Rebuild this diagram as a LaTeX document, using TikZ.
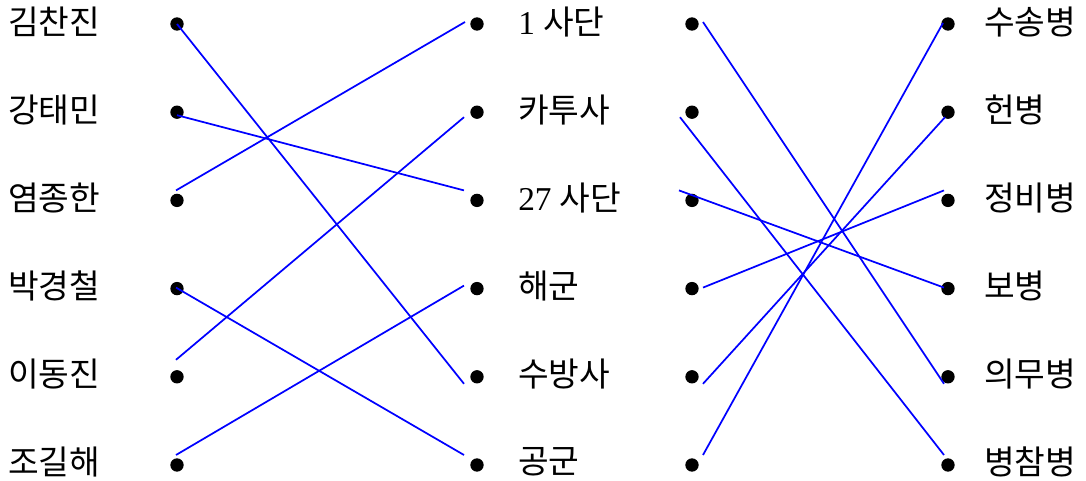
\documentclass[tikz,border=0pt]{standalone}
\usepackage{fontspec}
\setmainfont{Liberation Serif}
\newfontfamily\krfont{Noto Sans CJK KR}
\usetikzlibrary{calc}
\tikzset{
  dotnode/.style={circle,fill=black,inner sep=0pt,minimum size=10pt},
  lab/.style={anchor=west,inner sep=0pt,font=\fontsize{25pt}{28pt}\selectfont},
  link/.style={blue,line width=1.3pt}
}
\begin{document}
\begin{tikzpicture}[x=0.75pt,y=-0.75pt]
\useasboundingbox (0,0) rectangle (1086,481);
% dots
\foreach \i/\yy in {1/24,2/112.2,3/200.4,4/288.6,5/376.8,6/465}{
  \node[dotnode] (L\i) at (177,\yy) {};
  \node[dotnode] (M\i) at (477,\yy) {};
  \node[dotnode] (N\i) at (692,\yy) {};
  \node[dotnode] (R\i) at (948,\yy) {};
}
% labels left
\node[lab] (a1) at (8,22) {\krfont 김찬진};
\node[lab] (a2) at (8,110) {\krfont 강태민};
\node[lab] (a3) at (8,198) {\krfont 염종한};
\node[lab] (a4) at (8,286) {\krfont 박경철};
\node[lab] (a5) at (8,374) {\krfont 이동진};
\node[lab] (a6) at (8,462) {\krfont 조길해};
% labels middle
\node[lab] (b1) at (518,22) {1 {\krfont 사단}};
\node[lab] (b2) at (518,110) {\krfont 카투사};
\node[lab] (b3) at (518,198) {27 {\krfont 사단}};
\node[lab] (b4) at (518,286) {\krfont 해군};
\node[lab] (b5) at (518,374) {\krfont 수방사};
\node[lab] (b6) at (518,462) {\krfont 공군};
% labels right
\node[lab] (c1) at (984,22) {\krfont 수송병};
\node[lab] (c2) at (984,110) {\krfont 헌병};
\node[lab] (c3) at (984,198) {\krfont 정비병};
\node[lab] (c4) at (984,286) {\krfont 보병};
\node[lab] (c5) at (984,374) {\krfont 의무병};
\node[lab] (c6) at (984,462) {\krfont 병참병};
% left links
\draw[link] (L1.center) -- ($(M5)+(-13,7)$);
\draw[link] ($(L2)+(0,3)$) -- ($(M3)+(-13,-10)$);
\draw[link] ($(L3)+(-1,-10)$) -- ($(M1)+(-12,-2)$);
\draw[link] ($(L4)+(-1,-1)$) -- ($(M6)+(-13,-10)$);
\draw[link] ($(L5)+(-1,-17)$) -- ($(M2)+(-13,5)$);
\draw[link] ($(L6)+(-1,-10)$) -- ($(M4)+(-13,-3)$);
% right links
\draw[link] ($(N1)+(11,-2)$) -- ($(R5)+(-4,7)$);
\draw[link] ($(N2)+(-12,5)$) -- ($(R6)+(-4,-10)$);
\draw[link] ($(N3)+(-13,-10)$) -- ($(R4)+(-4,-1)$);
\draw[link] ($(N4)+(11,-1)$) -- ($(R3)+(-4,-10)$);
\draw[link] ($(N5)+(11,7)$) -- ($(R2)+(-3,5)$);
\draw[link] ($(N6)+(11,-10)$) -- ($(R1)+(-5,-1)$);
\end{tikzpicture}
\end{document}
